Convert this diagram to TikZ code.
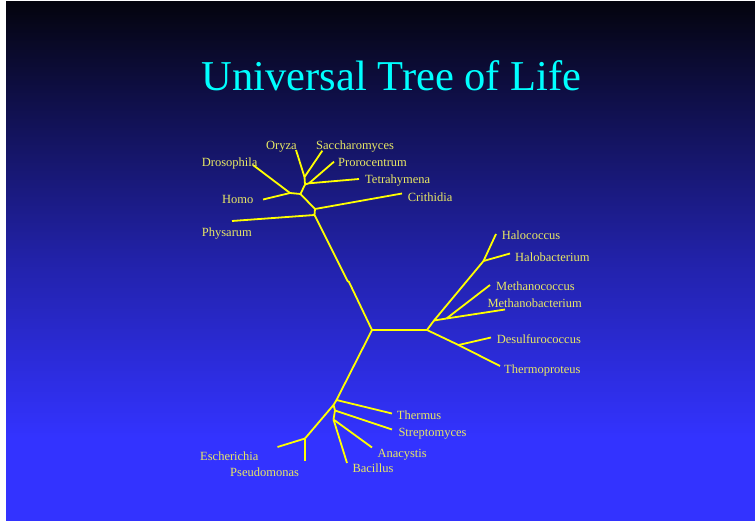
\documentclass[tikz,border=0pt]{standalone}
\usepackage{fontspec}
\setmainfont{Liberation Serif}
\definecolor{bgbot}{RGB}{51,51,255}
\definecolor{bgmid}{RGB}{34,34,170}
\definecolor{bgtop}{RGB}{4,4,14}
\definecolor{branch}{RGB}{255,255,0}
\definecolor{lbl}{RGB}{232,232,100}
\definecolor{ttl}{RGB}{0,255,255}
\pgfdeclareverticalshading{slidebg}{100bp}{color(0bp)=(bgbot); color(33bp)=(bgbot); color(50bp)=(bgmid); color(75bp)=(bgtop); color(100bp)=(bgtop)}
\tikzset{
  br/.style={draw=branch, line width=1.8pt, line cap=butt, line join=miter},
  taxon/.style={text=lbl, inner sep=0pt, anchor=base west, yshift=-0.7pt, font=\fontsize{12.5}{14}\selectfont},
  titletext/.style={text=ttl, inner sep=0pt, anchor=base, font=\fontsize{42.5}{48}\selectfont}
}
\begin{document}
\begin{tikzpicture}[x=1pt,y=-1pt]
\useasboundingbox (0,0) rectangle (755,521);
\fill[white] (0,0) rectangle (755,521);
\shade[shading=slidebg] (6,2) rectangle (755,521);

\node[titletext] (title) at (391.7,90.7) {Universal Tree of Life};

% center
\coordinate (C) at (372,330);
% Eukaryotes
\coordinate (kB) at (349,282);
\coordinate (kA) at (347.6,281);
\coordinate (A) at (314.5,215);
\coordinate (B) at (315,209);
\coordinate (D) at (300.5,194);
\coordinate (E) at (290,193);
\coordinate (F) at (305,184.5);
\coordinate (F2) at (309,183.3);
\coordinate (G) at (304.5,177);
\coordinate (ePhy) at (232,221);
\coordinate (eCri) at (402,193.5);
\coordinate (eHom) at (263,199.5);
\coordinate (eDro) at (253,165);
\coordinate (ePro) at (334,161.7);
\coordinate (eTet) at (359,179);
\coordinate (eOry) at (296,150);
\coordinate (eSac) at (322.3,150.7);
% Archaea
\coordinate (H) at (427,330);
\coordinate (J) at (434,320.5);
\coordinate (I) at (483.5,261);
\coordinate (M) at (446.5,318.5);
\coordinate (K) at (458.5,345);
\coordinate (aHcc) at (496,234);
\coordinate (aHbt) at (510,253.5);
\coordinate (aMcc) at (490,285);
\coordinate (aMbt) at (505,309.5);
\coordinate (aThp) at (500,366);
\coordinate (aDes) at (491,337.5);
% Bacteria
\coordinate (R1) at (336.5,400);
\coordinate (R2) at (333.5,405);
\coordinate (R3) at (335,410.5);
\coordinate (R4) at (333.5,419.5);
\coordinate (EP) at (305,438.5);
\coordinate (bThe) at (392,413.5);
\coordinate (bStr) at (392,429.5);
\coordinate (bAna) at (372,447.5);
\coordinate (bBac) at (347,463);
\coordinate (bEsc) at (277.5,447);
\coordinate (bPse) at (305,461);

% Eukaryote branches
\draw[br] (C) -- (kB) -- (kA) -- (A);
\draw[br] (A) -- (ePhy);
\draw[br] (A) -- (B);
\draw[br] (B) -- (eCri);
\draw[br] (B) -- (D);
\draw[br] (D) -- (E);
\draw[br] (E) -- (eHom);
\draw[br] (E) -- (eDro);
\draw[br] (D) -- (F);
\draw[br] (F) -- (F2);
\draw[br] (F2) -- (ePro);
\draw[br] (F2) -- (eTet);
\draw[br] (F) -- (G);
\draw[br] (G) -- (eOry);
\draw[br] (G) -- (eSac);

% Archaea branches
\draw[br] (C) -- (H);
\draw[br] (H) -- (J) -- (I);
\draw[br] (I) -- (aHcc);
\draw[br] (I) -- (aHbt);
\draw[br] (J) -- (M);
\draw[br] (M) -- (aMcc);
\draw[br] (M) -- (aMbt);
\draw[br] (H) -- (K) -- (aThp);
\draw[br] (K) -- (aDes);

% Bacteria branches
\draw[br] (C) -- (R1);
\draw[br] (R1) -- (bThe);
\draw[br] (R1) -- (R2);
\draw[br] (R2) -- (EP);
\draw[br] (EP) -- (bEsc);
\draw[br] (EP) -- (bPse);
\draw[br] (R2) -- (R3);
\draw[br] (R3) -- (bStr);
\draw[br] (R3) -- (R4);
\draw[br] (R4) -- (bAna);
\draw[br] (R4) -- (bBac);

% Labels
\node[taxon] (lOry) at (266,149) {Oryza};
\node[taxon] (lSac) at (316,149) {Saccharomyces};
\node[taxon] (lDro) at (201.7,166.3) {Drosophila};
\node[taxon] (lPro) at (338,166) {Prorocentrum};
\node[taxon] (lTet) at (365,183.3) {Tetrahymena};
\node[taxon] (lHom) at (222,203.3) {Homo};
\node[taxon] (lCri) at (407.7,200.7) {Crithidia};
\node[taxon] (lPhy) at (201.7,235.7) {Physarum};

\node[taxon] (lHcc) at (501.7,239) {Halococcus};
\node[taxon] (lHbt) at (515,260.7) {Halobacterium};
\node[taxon] (lMcc) at (496,290) {Methanococcus};
\node[taxon] (lMbt) at (487.3,307.3) {Methanobacterium};
\node[taxon] (lDes) at (496.7,343) {Desulfurococcus};
\node[taxon] (lThp) at (504,373) {Thermoproteus};

\node[taxon] (lThe) at (396.7,419) {Thermus};
\node[taxon] (lStr) at (398.3,435.7) {Streptomyces};
\node[taxon] (lAna) at (377.3,456.3) {Anacystis};
\node[taxon] (lBac) at (352.3,471.3) {Bacillus};
\node[taxon] (lEsc) at (200,459.7) {Escherichia};
\node[taxon] (lPse) at (230,475.7) {Pseudomonas};
\end{tikzpicture}
\end{document}
